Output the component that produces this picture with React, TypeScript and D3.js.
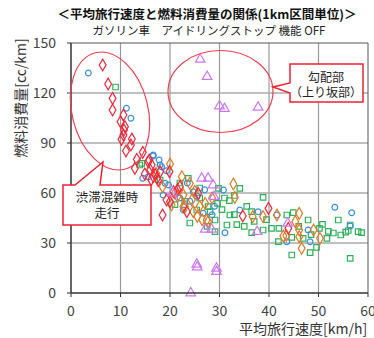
import * as d3 from 'd3'

// 平均旅行速度[km/h], 燃料消費量[cc/km]
const blueCircles: [number, number][] = [
  [3.5, 132], [11.2, 110.8], [12.1, 104.8], [16.6, 82.2], [17.8, 79.8], [18.3, 75.8], [19.3, 73.4],
  [14.5, 68.8], [15.6, 69.8], [19.0, 65.8], [19.7, 64.8], [18.6, 58.8], [22.7, 49.8], [24.7, 60.8],
  [26.7, 47.8], [23.5, 66], [25.5, 58], [30.8, 61.8], [31.1, 36.2], [34.1, 49.8], [37.8, 48.8],
  [41.6, 46.8], [43.6, 30.8], [47.9, 37.8], [48.3, 30.8], [53.3, 51.4], [56.7, 48.2], [56.4, 40.2],
  [24, 55], [27, 62], [29, 52], [22, 57], [28.5, 47], [16.6, 82.8], [18, 76.8],
]
const redDiamonds: [number, number][] = [
  [6.4, 136.8], [7.5, 125.4], [8.4, 116.8], [8.4, 109.8], [10.6, 106.8], [10.0, 102.8], [10.9, 99.8],
  [10.7, 97.8], [10.6, 94.8], [10.2, 92.2], [12.3, 92.4], [12.1, 88.8], [11.1, 85.2], [14.5, 84.4],
  [13.3, 80.2], [12.9, 74.8], [15.8, 79.8], [15.6, 78.8], [16.3, 76.8], [14.9, 71.4], [16.6, 70],
  [17.0, 71], [17.4, 69], [16.2, 68], [17.6, 67.5], [19.9, 72.8], [18, 72.8], [22.0, 63.8],
  [19.3, 55.8], [20, 54.8], [18.5, 46.8], [20.7, 60.8], [23.4, 48.8], [25.7, 59.8], [34.7, 46.2],
  [39.9, 50.8], [43.9, 38.8], [21.5, 62], [16, 74],
]
const greenSquares: [number, number][] = [
  [9.0, 123.6], [14.3, 77.8], [13.9, 76.8], [18.0, 67.8], [23.7, 68.8], [22, 66], [29.8, 62.8],
  [34.1, 62.8], [32, 55.4], [29.6, 53.8], [27.7, 51.8], [28.1, 48.8], [32.1, 46.8], [29.1, 43.8],
  [38.8, 57.4], [25.4, 49.8], [21, 53], [23, 55], [26, 57], [30.5, 50], [31, 57], [33, 58.5],
  [35.5, 52], [36.5, 48.8], [38.8, 37.8], [40.5, 38.8], [42, 38.8], [41.9, 30.8], [43.6, 46.8],
  [44.9, 48.2], [47.9, 43.8], [50.8, 41.2], [54, 43.8], [56.4, 40.8], [50.2, 38.8], [52, 37],
  [53, 36], [54.5, 34.8], [55.5, 36.5], [56, 37.5], [58, 36.8], [58.7, 36.2], [46.9, 32.8],
  [51.7, 32.8], [44.6, 33.4], [44.6, 22.8], [48.3, 24.2], [56.4, 20.8], [49.6, 27.4], [31.5, 40.8],
  [29.1, 36.8], [36.5, 36.2], [33.5, 41], [35, 40], [37, 43], [39.5, 44], [46, 40], [48.5, 35],
  [27.5, 40], [24, 42], [33, 47], [26, 63],
]
const orangeDiamonds: [number, number][] = [
  [17.2, 71.8], [20, 77.4], [18.5, 63.8], [22.4, 69.8], [21.5, 58], [22.7, 58.8], [23, 52],
  [24, 65.8], [24.4, 55.8], [27.1, 53.8], [24.7, 48.8], [27.7, 42.8], [27.4, 43.8], [26.5, 44],
  [20.3, 52.8], [22.7, 51.8], [25, 61], [26, 52], [32.8, 65.4], [33.1, 57.4], [36.7, 45.8],
  [38.8, 45.8], [41.6, 46.8], [46.1, 47.8], [45.3, 42.8], [46.1, 37.8], [49, 37.8],
  [42.9, 34.2], [43.5, 34.5], [50.3, 32.8], [46.1, 33.8], [46.6, 26.8], [21, 60], [25.5, 46], [28.5, 57],
]
const purpleTriangles: [number, number][] = [
  [26.1, 140.2], [27.5, 129.8], [30, 112.2], [31, 110.6], [37.8, 111.4], [26.4, 68.8], [27.7, 68.8],
  [28.7, 64.8], [27.1, 38.2], [28.4, 38.2], [25.4, 17.2], [25.5, 15.5], [29.4, 14.8], [29.4, 12.8],
  [24.2, 0], [28.9, 57.8], [37.6, 36.8], [43.8, 41.8], [20.5, 60],
]

const xTicks = [0, 10, 20, 30, 40, 50, 60]
const yTicks = [0, 30, 60, 90, 120, 150]

const W = 374
const H = 338
const left = 71, right = 368, top = 43, bottom = 293

export default function App() {
  const x = d3.scaleLinear().domain([0, 60]).range([left, right])
  const y = d3.scaleLinear().domain([0, 150]).range([bottom, top])

  const circle = d3.symbol().type(d3.symbolCircle).size(26)()!
  const square = d3.symbol().type(d3.symbolSquare).size(30)()!
  const diamond = d3.symbol().type(d3.symbolDiamond).size(40)()!
  const triangle = d3.symbol().type(d3.symbolTriangle).size(40)()!

  const series = [
    { data: greenSquares, path: square, color: '#2eb05a' },
    { data: blueCircles, path: circle, color: '#3a8ee0' },
    { data: orangeDiamonds, path: diamond, color: '#e07a24' },
    { data: redDiamonds, path: diamond, color: '#f0283a' },
    { data: purpleTriangles, path: triangle, color: '#cc77f0' },
  ]

  const font = '"Noto Sans CJK JP", "Noto Sans", sans-serif'

  return (
    <svg width={W} height={H} style={{ position: 'absolute', left: 0, top: 0, background: '#fff' }} fontFamily={font}>
      <rect width={W} height={H} fill="#fff" />
      <text x={207} y={19} textAnchor="middle" fontSize={12.5} fontWeight="bold" fill="#111">
        ＜平均旅行速度と燃料消費量の関係(1km区間単位)＞
      </text>
      <text x={209} y={35} textAnchor="middle" fontSize={11.5} fill="#222">
        ガソリン車　アイドリングストップ 機能 OFF
      </text>

      {/* grid */}
      {xTicks.slice(1, -1).map(t => (
        <line key={'gx' + t} x1={x(t)} x2={x(t)} y1={top} y2={bottom} stroke="#999" strokeWidth={1.2} />
      ))}
      {yTicks.slice(1, -1).map(t => (
        <line key={'gy' + t} x1={left} x2={right} y1={y(t)} y2={y(t)} stroke="#aaa" strokeWidth={1.5} />
      ))}
      <line x1={left} x2={right} y1={top} y2={top} stroke="#555" strokeWidth={1} />
      <line x1={right} x2={right} y1={top} y2={bottom} stroke="#555" strokeWidth={1} />

      {/* points */}
      {series.map((s, i) => (
        <g key={i}>
          {s.data.map((d, j) => (
            <path key={j} d={s.path} transform={`translate(${x(d[0])},${y(d[1])})`}
              fill="none" stroke={s.color} strokeWidth={1.2} />
          ))}
        </g>
      ))}

      {/* axes */}
      <line x1={left} x2={left} y1={top} y2={bottom} stroke="#333" strokeWidth={1.5} />
      <line x1={left} x2={right} y1={bottom} y2={bottom} stroke="#333" strokeWidth={1.5} />
      {yTicks.map(t => (
        <g key={'yt' + t}>
          <line x1={left - 4} x2={left} y1={y(t)} y2={y(t)} stroke="#333" />
          <text x={56} y={y(t) + 5} textAnchor="end" fontSize={14} fill="#444">{t}</text>
        </g>
      ))}
      {xTicks.map(t => (
        <g key={'xt' + t}>
          <line x1={x(t)} x2={x(t)} y1={bottom} y2={bottom + 4} stroke="#333" />
          <text x={x(t)} y={316} textAnchor="middle" fontSize={14} fill="#444">{t}</text>
        </g>
      ))}
      <text transform="translate(26,98) rotate(-90)" textAnchor="middle" fontSize={14} fill="#333">
        燃料消費量[cc/km]
      </text>
      <text x={239} y={334} fontSize={14} fill="#333">平均旅行速度[km/h]</text>

      {/* annotations */}
      <ellipse cx={110} cy={111} rx={38} ry={60} transform="rotate(-14,110,111)"
        fill="none" stroke="#f04050" strokeWidth={1.2} />
      <ellipse cx={220.5} cy={91.5} rx={52.5} ry={41} fill="none" stroke="#f04050" strokeWidth={1.2} />

      <path d="M290,64 H363 V102 H290 V93 L273,87 L290,83 Z" fill="#fff" stroke="#f02030" strokeWidth={1.5} />
      <text x={326} y={82} textAnchor="middle" fontSize={12} fill="#222">勾配部</text>
      <text x={326} y={97} textAnchor="middle" fontSize={12} fill="#222">（上り坂部）</text>

      <path d="M63,185 H75 L103,162 L100,185 H151 V225 H63 Z" fill="#fff" stroke="#f02030" strokeWidth={1.5} />
      <text x={107} y={202} textAnchor="middle" fontSize={12.5} fill="#222">渋滞混雑時</text>
      <text x={107} y={218} textAnchor="middle" fontSize={12.5} fill="#222">走行</text>
    </svg>
  )
}
